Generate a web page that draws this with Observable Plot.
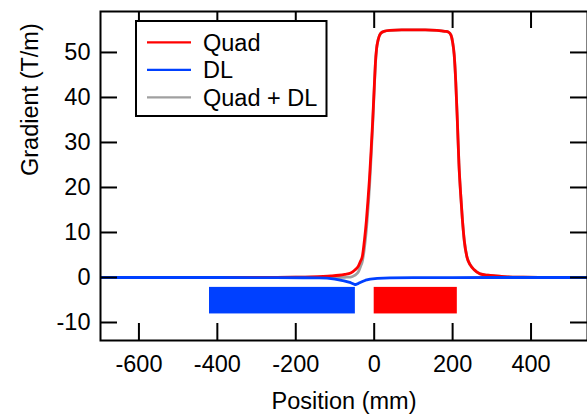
<!DOCTYPE html>
<html><head><meta charset="utf-8">
<script src="https://cdn.jsdelivr.net/npm/d3@7"></script>
<script src="https://cdn.jsdelivr.net/npm/@observablehq/plot@0.6"></script>
<style>html,body{margin:0;padding:0;background:#fff;} #chart svg{display:block;}</style>
</head><body><div id="chart"></div>
<script>
// ---- data ----
const quadX = [-700,-600,-500,-400,-300,-250,-200,-160,-130,-110,-90,-75,-60,-50,-40,-35,-30,-25,-20,-16,-12,-8,-4,0,3,6,10,16,25,40,70,100,130,160,180,190,196,200,204,208,212,216,220,225,230,237,245,255,270,290,310,340,380,420,480,545];
const quadG = [0,0,0,0,0.02,0.04,0.08,0.15,0.25,0.35,0.5,0.7,1.0,1.6,2.6,3.6,4.8,8.2,12.5,17,22,28,34.5,42,47.5,50.8,52.8,54.2,54.7,54.9,55.0,55.0,55.0,54.9,54.7,54.5,53.8,52.3,49.5,43.5,35,25.5,19.2,12.8,8.0,4.4,2.8,1.7,0.8,0.5,0.35,0.15,0.08,0.04,0.01,0];
const sumX = quadX;
const sumG = [0,0,0,0,0.02,0.03,0.05,0.05,0.0,0.0,0.0,0.05,0.1,0.45,1.3,2.4,3.7,6.5,10.5,15,20,26.5,33.5,41.5,47.3,50.7,52.7,54.2,54.7,54.9,55.0,55.0,55.0,54.9,54.7,54.5,53.8,52.3,49.5,43.5,35,25.5,19.2,12.8,8.0,4.4,2.8,1.7,0.8,0.5,0.35,0.15,0.08,0.04,0.01,0];
const dlX = [-700,-400,-250,-180,-140,-120,-100,-77,-60,-48,-40,-30,-22,-10,8,40,100,200,300,545];
const dlG = [0,0,-0.02,-0.06,-0.1,-0.15,-0.35,-0.75,-1.15,-1.6,-1.3,-0.9,-0.6,-0.35,-0.2,-0.1,-0.05,-0.02,0,0];

const seriesNames = ["Quad", "DL", "Quad + DL"];
const seriesColors = ["#ff0000", "#0040ff", "#a0a0a0"];

const magnetNames = ["DL", "Quad"];
const magnetStart = [-420, 0];
const magnetEnd = [-48, 212];
const magnetLow = [-8.1, -8.1];
const magnetHigh = [-2.2, -2.2];
const magnetColors = ["#0040ff", "#ff0000"];

const xTicks = [-600, -400, -200, 0, 200, 400];
const yTicks = [-10, 0, 10, 20, 30, 40, 50];
const xTitle = "Position (mm)";
const yTitle = "Gradient (T/m)";

// ---- build tables ----
const quad = quadX.map((x, i) => ({x, y: quadG[i]}));
const sum = sumX.map((x, i) => ({x, y: sumG[i]}));
const dl = dlX.map((x, i) => ({x, y: dlG[i]}));
const magnets = magnetNames.map((n, i) => ({name: n, x1: magnetStart[i], x2: magnetEnd[i], y1: magnetLow[i], y2: magnetHigh[i], c: magnetColors[i]}));

const W = 587, H = 417, ML = 100, MR = 0, MT = 11, MB = 77;
const plotW = W - ML - MR, plotH = H - MT - MB, TICK = 17;
const FONT = "Liberation Sans, Arial, Helvetica, sans-serif";
const FS = 23.5;

const chart = Plot.plot({
  width: W, height: H,
  marginLeft: ML, marginRight: MR, marginTop: MT, marginBottom: MB,
  style: {fontFamily: FONT, fontSize: FS + "px", background: "#fff", color: "#000", overflow: "visible"},
  x: {domain: [-698, 544], axis: null},
  y: {domain: [-14, 59.1], axis: null},
  marks: [
    Plot.rect(magnets, {x1: "x1", x2: "x2", y1: "y1", y2: "y2", fill: "c"}),
    Plot.line(sum, {x: "x", y: "y", stroke: seriesColors[2], strokeWidth: 2.8, curve: "monotone-x", clip: true}),
    Plot.line(quad, {x: "x", y: "y", stroke: seriesColors[0], strokeWidth: 2.8, curve: "monotone-x", clip: true}),
    Plot.line(dl, {x: "x", y: "y", stroke: seriesColors[1], strokeWidth: 2.8, clip: true}),
    Plot.frame({stroke: "#000", strokeWidth: 2}),
    Plot.tickX(xTicks, {x: d => d, stroke: "#000", strokeWidth: 2, insetTop: plotH - TICK}),
    Plot.tickX(xTicks, {x: d => d, stroke: "#000", strokeWidth: 2, insetBottom: plotH - TICK}),
    Plot.tickY(yTicks, {y: d => d, stroke: "#000", strokeWidth: 2, insetRight: plotW - TICK}),
    Plot.tickY(yTicks, {y: d => d, stroke: "#000", strokeWidth: 2, insetLeft: plotW - TICK}),
    Plot.text(xTicks, {x: d => d, text: d => String(d), frameAnchor: "bottom", dy: 24, lineAnchor: "middle", fontSize: FS, fill: "#000"}),
    Plot.text(yTicks, {y: d => d, text: d => String(d), frameAnchor: "left", textAnchor: "end", dx: -10, lineAnchor: "middle", fontSize: FS, fill: "#000"}),
    Plot.text([xTitle], {text: d => d, frameAnchor: "bottom", dy: 61, lineAnchor: "middle", fontSize: FS, fill: "#000"}),
    Plot.text([yTitle], {text: d => d, frameAnchor: "left", dx: -70, rotate: -90, lineAnchor: "middle", fontSize: FS, fill: "#000"})
  ]
});

// ---- legend inside the plot (layout only) ----
const svg = d3.select(chart);
const lg = svg.append("g").attr("text-anchor", "start");
lg.append("rect").attr("x", 136).attr("y", 21).attr("width", 190.5).attr("height", 95)
  .attr("fill", "#fff").attr("stroke", "#000").attr("stroke-width", 2);
seriesNames.forEach((name, i) => {
  const cy = 42.3 + i * 27.5;
  lg.append("line").attr("x1", 147).attr("x2", 191).attr("y1", cy).attr("y2", cy)
    .attr("stroke", seriesColors[i]).attr("stroke-width", 2.3);
  lg.append("text").attr("x", 203).attr("y", cy).attr("dy", "0.35em")
    .attr("text-anchor", "start")
    .attr("font-family", FONT).attr("font-size", FS).attr("fill", "#000").text(name);
});

document.getElementById("chart").appendChild(chart);
</script>
</body></html>
